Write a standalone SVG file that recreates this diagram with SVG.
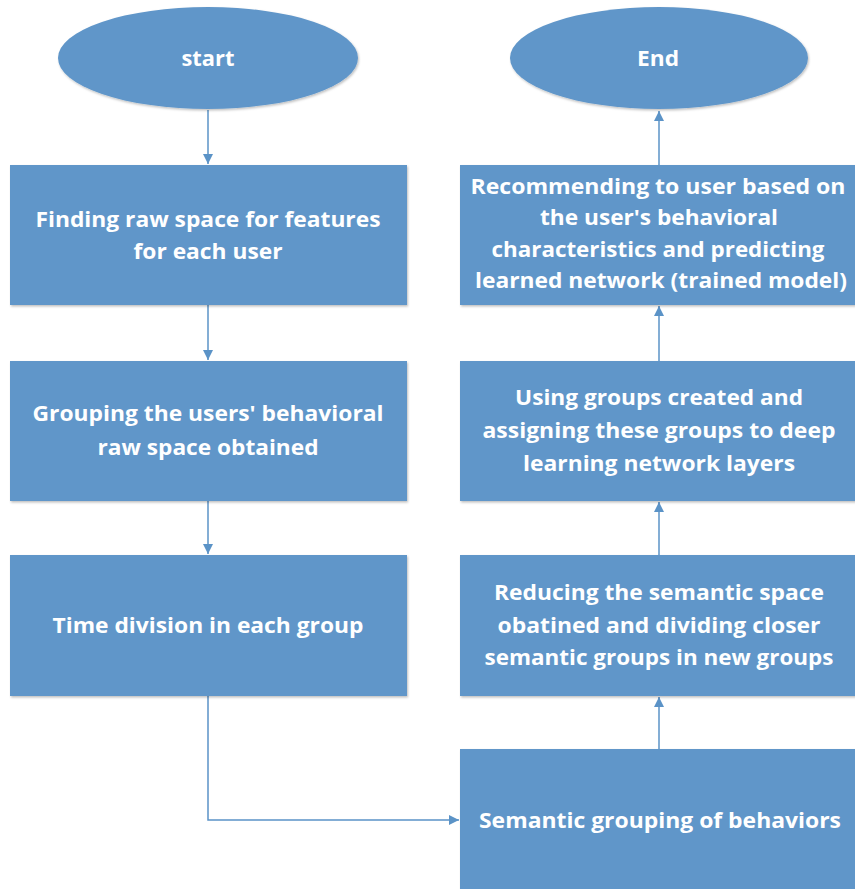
<svg xmlns="http://www.w3.org/2000/svg" width="855" height="889" viewBox="0 0 855 889">
  <defs>
    <filter id="shadow" x="-5%" y="-5%" width="110%" height="110%">
      <feDropShadow dx="1" dy="1.5" stdDeviation="1.2" flood-color="#000" flood-opacity="0.25"/>
    </filter>
    <marker id="arrow" viewBox="0 0 10 10" refX="10" refY="5" markerWidth="10" markerHeight="10" markerUnits="userSpaceOnUse" orient="auto">
      <path d="M0,0 L10,5 L0,10 Z" fill="#5b93c7"/>
    </marker>
  </defs>
  <style>
    .shape { fill: #6096c9; filter: url(#shadow); }
    .label { fill: #ffffff; font-family: "Open Sans", "Noto Sans", "Liberation Sans", sans-serif; font-weight: bold; font-size: 22px; text-anchor: middle; }
    .conn { fill: none; stroke: #5b93c7; stroke-width: 1.5; marker-end: url(#arrow); }
  </style>
  <rect width="855" height="889" fill="#ffffff"/>

  <g id="connectors">
    <path class="conn" d="M208,110 L208,164"/>
    <path class="conn" d="M208,305 L208,360"/>
    <path class="conn" d="M208,501 L208,554"/>
    <path class="conn" d="M208,696 L208,820 L459,820"/>
    <path class="conn" d="M659,749 L659,697"/>
    <path class="conn" d="M659,555 L659,502"/>
    <path class="conn" d="M659,361 L659,306"/>
    <path class="conn" d="M659,165 L659,111"/>
  </g>

  <g id="start">
    <ellipse class="shape" cx="208" cy="58" rx="150" ry="51"/>
    <text class="label" x="208" y="66" textLength="53" lengthAdjust="spacingAndGlyphs">start</text>
  </g>

  <g id="find-raw-space">
    <rect class="shape" x="10" y="165" width="397" height="140"/>
    <text class="label" x="208" y="227" textLength="345" lengthAdjust="spacingAndGlyphs">Finding raw space for features</text>
    <text class="label" x="208" y="259" textLength="149" lengthAdjust="spacingAndGlyphs">for each user</text>
  </g>

  <g id="group-users">
    <rect class="shape" x="10" y="361" width="397" height="140"/>
    <text class="label" x="208" y="421" textLength="351" lengthAdjust="spacingAndGlyphs">Grouping the users' behavioral</text>
    <text class="label" x="208" y="455" textLength="221" lengthAdjust="spacingAndGlyphs">raw space obtained</text>
  </g>

  <g id="time-division">
    <rect class="shape" x="10" y="555" width="397" height="141"/>
    <text class="label" x="208" y="633" textLength="311" lengthAdjust="spacingAndGlyphs">Time division in each group</text>
  </g>

  <g id="semantic-grouping">
    <rect class="shape" x="460" y="749" width="400" height="145"/>
    <text class="label" x="660" y="828" textLength="362" lengthAdjust="spacingAndGlyphs">Semantic grouping of behaviors</text>
  </g>

  <g id="reduce-semantic-space">
    <rect class="shape" x="460" y="555" width="400" height="141"/>
    <text class="label" x="659" y="600" textLength="330" lengthAdjust="spacingAndGlyphs">Reducing the semantic space</text>
    <text class="label" x="659" y="633" textLength="323" lengthAdjust="spacingAndGlyphs">obatined and dividing closer</text>
    <text class="label" x="659" y="665" textLength="349" lengthAdjust="spacingAndGlyphs">semantic groups in new groups</text>
  </g>

  <g id="assign-groups">
    <rect class="shape" x="460" y="361" width="400" height="140"/>
    <text class="label" x="659" y="405" textLength="288" lengthAdjust="spacingAndGlyphs">Using groups created and</text>
    <text class="label" x="659" y="438" textLength="353" lengthAdjust="spacingAndGlyphs">assigning these groups to deep</text>
    <text class="label" x="659" y="471" textLength="272" lengthAdjust="spacingAndGlyphs">learning network layers</text>
  </g>

  <g id="recommend">
    <rect class="shape" x="460" y="165" width="400" height="140"/>
    <text class="label" x="658" y="194" textLength="375" lengthAdjust="spacingAndGlyphs">Recommending to user based on</text>
    <text class="label" x="659" y="225" textLength="238" lengthAdjust="spacingAndGlyphs">the user's behavioral</text>
    <text class="label" x="658" y="257" textLength="333" lengthAdjust="spacingAndGlyphs">characteristics and predicting</text>
    <text class="label" x="661" y="288" textLength="372" lengthAdjust="spacingAndGlyphs">learned network (trained model)</text>
  </g>

  <g id="end">
    <ellipse class="shape" cx="659" cy="58" rx="149" ry="51"/>
    <text class="label" x="658" y="66" textLength="42" lengthAdjust="spacingAndGlyphs">End</text>
  </g>
</svg>
